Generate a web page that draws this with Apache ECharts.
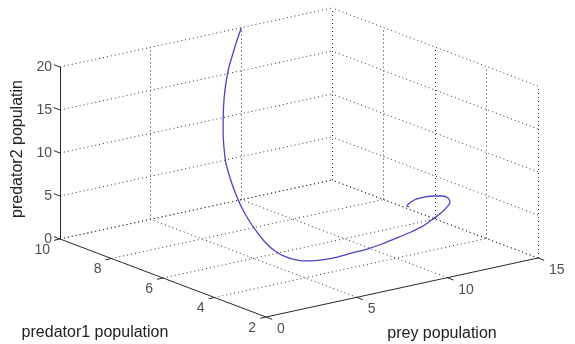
<!DOCTYPE html>
<html>
<head>
<meta charset="utf-8">
<script src="https://cdn.jsdelivr.net/npm/echarts@6/dist/echarts.min.js"></script>
<style>html,body{margin:0;padding:0;background:#fff}#c{width:575px;height:344px}</style>
</head>
<body>
<div id="c"></div>
<script>
// ---- data ----
const preyTicks = [0, 5, 10, 15];
const pred1Ticks = [2, 4, 6, 8, 10];
const pred2Ticks = [0, 5, 10, 15, 20];
const preyTitle = 'prey population';
const pred1Title = 'predator1 population';
const pred2Title = 'predator2 populatin';

const prey  = [10.0, 9.51, 9.12, 8.64, 8.18, 7.66, 7.17, 6.71, 6.29, 6.01, 5.80, 5.63, 5.42, 5.26, 5.15, 5.08, 5.15, 5.34, 5.65, 6.06, 6.61, 7.33, 8.15, 8.92, 9.79, 10.72, 11.56, 12.34, 13.10, 13.70, 14.19, 14.48, 14.54, 14.31, 13.91, 13.43, 12.96, 12.51, 12.08, 12.10];
const pred1 = [10.0, 9.82, 9.70, 9.52, 9.31, 9.02, 8.71, 8.39, 8.06, 7.79, 7.48, 7.17, 6.79, 6.40, 6.01, 5.62, 5.28, 4.99, 4.77, 4.60, 4.48, 4.40, 4.40, 4.36, 4.39, 4.46, 4.51, 4.59, 4.74, 4.85, 4.96, 5.05, 5.17, 5.24, 5.27, 5.28, 5.26, 5.18, 5.03, 4.96];
const pred2 = [20.0, 19.0, 17.8, 16.6, 15.3, 14.0, 12.6, 11.2, 9.9, 8.6, 7.3, 6.1, 5.0, 4.0, 3.1, 2.3, 1.6, 1.15, 0.9, 0.8, 0.8, 0.9, 1.0, 1.15, 1.3, 1.5, 1.75, 2.0, 2.3, 2.6, 2.95, 3.3, 3.6, 3.85, 4.0, 4.1, 4.1, 4.05, 3.95, 3.9];

// ---- view (projection of the 3D box onto the page plane) ----
const xMin = preyTicks[0], xMax = preyTicks[preyTicks.length - 1];
const yMin = pred1Ticks[0], yMax = pred1Ticks[pred1Ticks.length - 1];
const zMin = pred2Ticks[0], zMax = pred2Ticks[pred2Ticks.length - 1];
const view = { ox: 266, oy: 317, ex: [272, -59], ey: [-206, -78], ez: [0, -172] };
function P(x, y, z) {
  const u = (x - xMin) / (xMax - xMin), v = (y - yMin) / (yMax - yMin), w = (z - zMin) / (zMax - zMin);
  return [view.ox + u * view.ex[0] + v * view.ey[0] + w * view.ez[0],
          view.oy + u * view.ex[1] + v * view.ey[1] + w * view.ez[1]];
}
function seg(a, b) { return { coords: [P(a[0], a[1], a[2]), P(b[0], b[1], b[2])] }; }

// grid (dotted) segments
const grid = [];
// back wall y = yMax
preyTicks.forEach(x => { if (x !== xMin) grid.push(seg([x, yMax, zMin], [x, yMax, zMax])); });
pred2Ticks.forEach(z => grid.push(seg([xMin, yMax, z], [xMax, yMax, z])));
// side wall x = xMax
pred1Ticks.forEach(y => grid.push(seg([xMax, y, zMin], [xMax, y, zMax])));
pred2Ticks.forEach(z => grid.push(seg([xMax, yMin, z], [xMax, yMax, z])));
// floor z = zMin
preyTicks.forEach(x => { if (x !== xMin) grid.push(seg([x, yMin, zMin], [x, yMax, zMin])); });
pred1Ticks.forEach(y => { if (y !== yMin) grid.push(seg([xMin, y, zMin], [xMax, y, zMin])); });

// solid axes and ticks
const axes = [
  seg([xMin, yMin, zMin], [xMax, yMin, zMin]),
  seg([xMin, yMin, zMin], [xMin, yMax, zMin]),
  seg([xMin, yMax, zMin], [xMin, yMax, zMax])
];
const tx = (xMax - xMin) * 0.022, ty = (yMax - yMin) * 0.03;
preyTicks.forEach(x => axes.push(seg([x, yMin, zMin], [x, yMin - ty, zMin])));
pred1Ticks.forEach(y => axes.push(seg([xMin, y, zMin], [xMin - tx, y, zMin])));
pred2Ticks.forEach(z => axes.push(seg([xMin, yMax, z], [xMin, yMax + ty, z])));

const curve = prey.map((x, i) => P(x, pred1[i], pred2[i]));

const font = 'Liberation Sans, Arial, sans-serif';
const txtColor = '#222';
function tickSeries(points, labelCfg) {
  return {
    type: 'scatter', symbolSize: 0, silent: true, z: 5,
    data: points,
    label: Object.assign({ show: true, formatter: '{b}', color: txtColor, fontSize: 14, fontFamily: font }, labelCfg)
  };
}

const chart = echarts.init(document.getElementById('c'), null, { renderer: 'canvas' });
chart.setOption({
  animation: false,
  backgroundColor: '#ffffff',
  grid: { left: 0, right: 0, top: 0, bottom: 0 },
  xAxis: { type: 'value', min: 0, max: 575, show: false },
  yAxis: { type: 'value', min: 0, max: 344, inverse: true, show: false },
  series: [
    { type: 'lines', coordinateSystem: 'cartesian2d', silent: true, z: 1,
      lineStyle: { color: '#333', width: 1, type: [1, 3], opacity: 1 }, data: grid },
    { type: 'lines', coordinateSystem: 'cartesian2d', silent: true, z: 2,
      lineStyle: { color: '#2a2a2a', width: 1, type: 'solid', opacity: 1 }, data: axes },
    { type: 'line', data: curve, showSymbol: false, smooth: 0.2, silent: true, z: 3,
      lineStyle: { color: '#4a44c4', width: 1.3 } },
    tickSeries(pred2Ticks.map(z => ({ name: String(z), value: P(xMin, yMax, z) })),
      { position: 'inside', align: 'right', verticalAlign: 'middle', offset: [-8, 0] }),
    tickSeries(pred1Ticks.map(y => ({ name: String(y), value: P(xMin, y, zMin) })),
      { position: 'inside', align: 'right', verticalAlign: 'middle', offset: [-10, 11] }),
    tickSeries(preyTicks.map(x => ({ name: String(x), value: P(x, yMin, zMin) })),
      { position: 'inside', align: 'left', verticalAlign: 'middle', offset: [11, 12] })
  ],
  graphic: [
    { type: 'text', x: 95, y: 333, style: { text: pred1Title, fill: txtColor, font: '16px ' + font, align: 'center', verticalAlign: 'middle' } },
    { type: 'text', x: 442, y: 334, style: { text: preyTitle, fill: txtColor, font: '16px ' + font, align: 'center', verticalAlign: 'middle' } },
    { type: 'text', x: 18, y: 149, rotation: Math.PI / 2, style: { text: pred2Title, fill: txtColor, font: '16px ' + font, align: 'center', verticalAlign: 'middle' } }
  ]
});
</script>
</body>
</html>
